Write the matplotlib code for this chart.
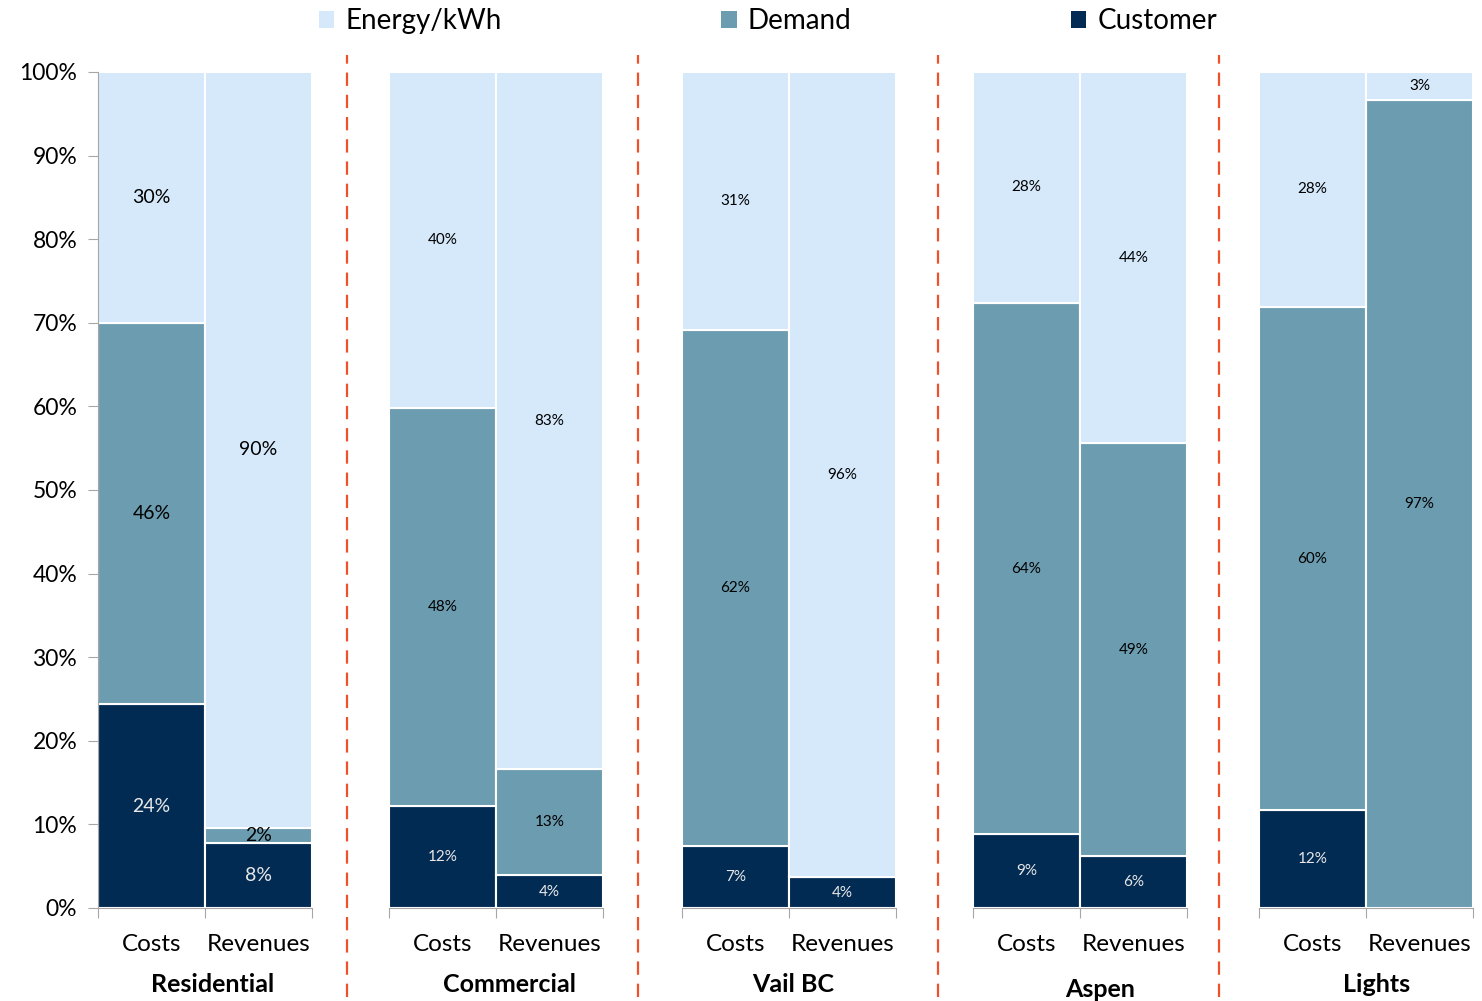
import matplotlib.pyplot as plt
from matplotlib.lines import Line2D
from matplotlib.patches import Patch

# data (share of each component, %)
groups = ['Residential', 'Commercial', 'Vail BC', 'Aspen', 'Lights']
bar_names = ['Costs', 'Revenues']
customer = [[24.4, 7.8], [12.2, 3.9], [7.4, 3.7], [8.8, 6.2], [11.7, 0.0]]
demand = [[45.6, 1.8], [47.6, 12.7], [61.7, 0.0], [63.6, 49.4], [60.2, 96.6]]
energy = [[30.0, 90.4], [40.2, 83.4], [30.9, 96.3], [27.6, 44.4], [28.1, 3.4]]

c_energy = '#D5E9FB'
c_demand = '#6C9CB0'
c_customer = '#022B53'
red = '#F0502A'
grey = '#A6A6A6'

plt.rcParams['font.family'] = ['Lato', 'DejaVu Sans']

W, H = 1482, 1001
fig = plt.figure(figsize=(W / 100, H / 100), dpi=100)

lefts = [98, 389, 682, 973, 1259]
seps = [347, 638, 938, 1219]
label_shift = [0.07, 0.13, 0.04, 0.19, 0.1]
label_y = [-0.092, -0.092, -0.092, -0.097, -0.092]
ax_w = 214
y_top, y_bot = 72, 908

for i, g in enumerate(groups):
    ax = fig.add_axes([lefts[i] / W, (H - y_bot) / H, ax_w / W, (y_bot - y_top) / H])
    x = [0, 1]
    ax.set_axisbelow(True)
    ax.yaxis.grid(True, color='#E3E3E3', linewidth=1)
    ax.bar(x, customer[i], width=1, color=c_customer, edgecolor='white', linewidth=1.5)
    ax.bar(x, demand[i], width=1, bottom=customer[i], color=c_demand,
           edgecolor='white', linewidth=1.5)
    bot3 = [c + d for c, d in zip(customer[i], demand[i])]
    ax.bar(x, energy[i], width=1, bottom=bot3, color=c_energy,
           edgecolor='white', linewidth=1.5)

    fs = 14 if i == 0 else 11
    for j in range(2):
        segs = [(customer[i][j], 0, '#E8E8E8'),
                (demand[i][j], customer[i][j], 'black'),
                (energy[i][j], bot3[j], 'black')]
        for val, base, col in segs:
            if val <= 0:
                continue
            ax.text(x[j], base + val / 2, f'{val:.0f}%', ha='center', va='center',
                    fontsize=fs, color=col)

    ax.set_xlim(-0.5, 1.5)
    ax.set_ylim(0, 100)
    for s in ['top', 'right']:
        ax.spines[s].set_visible(False)
    ax.spines['bottom'].set_color(grey)
    ax.set_xticks([-0.5, 0.5, 1.5])
    ax.set_xticklabels([])
    ax.tick_params(axis='x', which='major', length=7, color=grey, direction='out')
    ax.set_xticks(x, minor=True)
    ax.set_xticklabels(bar_names, minor=True, fontsize=17.5)
    ax.tick_params(axis='x', which='minor', length=0, pad=19)

    if i == 0:
        ax.spines['left'].set_color(grey)
        ax.set_yticks(range(0, 101, 10))
        ax.set_yticklabels([f'{v}%' for v in range(0, 101, 10)], fontsize=16.5)
        ax.tick_params(axis='y', length=7, color=grey, pad=8)
    else:
        ax.spines['left'].set_visible(False)
        ax.set_yticks(range(0, 101, 10))
        ax.set_yticklabels([])
        ax.tick_params(axis='y', length=0)

    ax.text(0.5 + label_shift[i], label_y[i], g, transform=ax.get_xaxis_transform(),
            ha='center', va='center', fontsize=18, fontweight='bold')

for sx in seps:
    fig.add_artist(Line2D([sx / W, sx / W], [(H - 997) / H, (H - 55) / H],
                          color=red, linewidth=1.6, linestyle=(0, (6, 4))))

handles = [Patch(facecolor=c_energy), Patch(facecolor=c_demand), Patch(facecolor=c_customer)]
fig.legend(handles, ['Energy/kWh', 'Demand', 'Customer'], loc='center',
           bbox_to_anchor=(768 / W, (H - 21) / H), ncol=3, frameon=False,
           fontsize=20, handlelength=0.55, handleheight=0.55, handletextpad=0.4,
           columnspacing=7.9)

fig.savefig('out.png', dpi=100)
